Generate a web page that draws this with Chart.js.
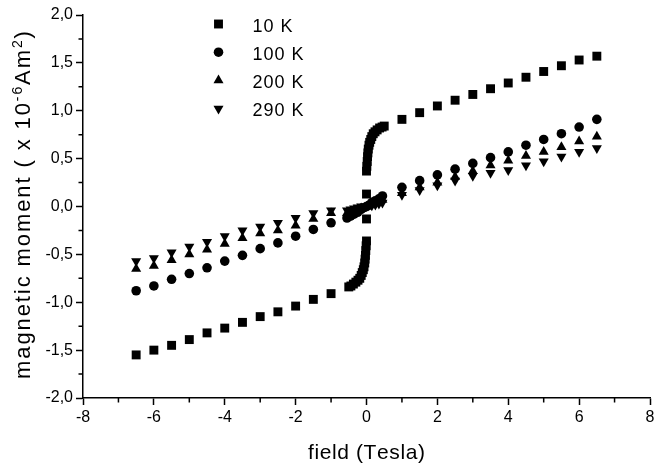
<!DOCTYPE html>
<html>
<head>
<meta charset="utf-8">
<script src="https://cdn.jsdelivr.net/npm/chart.js@4.4.1/dist/chart.umd.min.js"></script>
<style>
html, body { margin: 0; padding: 0; background: #fff; }
#wrap { width: 660px; height: 465px; position: relative; }
</style>
</head>
<body>
<div id="wrap"><canvas id="myChart"></canvas></div>
<script>
// ---- data (field in Tesla, moment in 1e-6 Am2) ----
var field_10K = [-6.5, -6, -5.5, -5, -4.5, -4, -3.5, -3, -2.5, -2, -1.5, -1,
    -0.50, -0.44, -0.37, -0.30, -0.24, -0.19, -0.15, -0.12, -0.09, -0.07, -0.05, -0.04, -0.03, -0.02, -0.01, 0.00,
    0.00, 0.00,
    0.00, 0.01, 0.02, 0.03, 0.04, 0.05, 0.07, 0.09, 0.12, 0.15, 0.19, 0.24, 0.30, 0.37, 0.44, 0.50,
    1, 1.5, 2, 2.5, 3, 3.5, 4, 4.5, 5, 5.5, 6, 6.5];
var moment_10K = [-1.55, -1.50, -1.45, -1.39, -1.32, -1.27, -1.21, -1.15, -1.10, -1.04, -0.97, -0.91,
    -0.84, -0.83, -0.81, -0.79, -0.77, -0.75, -0.72, -0.69, -0.66, -0.63, -0.59, -0.55, -0.51, -0.46, -0.41, -0.36,
    -0.13, 0.13,
    0.37, 0.42, 0.47, 0.52, 0.56, 0.60, 0.64, 0.67, 0.70, 0.73, 0.76, 0.78, 0.80, 0.82, 0.83, 0.84,
    0.91, 0.98, 1.05, 1.11, 1.17, 1.23, 1.29, 1.35, 1.41, 1.47, 1.53, 1.57];

var field_hiT = [-6.5, -6, -5.5, -5, -4.5, -4, -3.5, -3, -2.5, -2, -1.5, -1,
    -0.55, -0.45, -0.35, -0.25, -0.15, -0.05, 0.05, 0.15, 0.25, 0.35, 0.45,
    1, 1.5, 2, 2.5, 3, 3.5, 4, 4.5, 5, 5.5, 6, 6.5];
var moment_100K = [-0.88, -0.83, -0.76, -0.70, -0.64, -0.57, -0.51, -0.44, -0.38, -0.31, -0.24, -0.17,
    -0.12, -0.10, -0.08, -0.06, -0.03, -0.01, 0.01, 0.04, 0.06, 0.08, 0.11,
    0.20, 0.27, 0.33, 0.39, 0.45, 0.51, 0.57, 0.64, 0.70, 0.76, 0.83, 0.91];
var moment_200K = [-0.65, -0.62, -0.56, -0.50, -0.45, -0.39, -0.33, -0.28, -0.25, -0.20, -0.13, -0.07,
    -0.07, -0.06, -0.04, -0.03, -0.02, -0.01, 0.01, 0.02, 0.04, 0.05, 0.07,
    0.14, 0.20, 0.25, 0.31, 0.37, 0.43, 0.48, 0.53, 0.57, 0.62, 0.68, 0.73];
var moment_290K = [-0.57, -0.54, -0.48, -0.42, -0.37, -0.31, -0.25, -0.21, -0.17, -0.12, -0.07, -0.04,
    -0.04, -0.03, -0.02, -0.01, 0.00, 0.00, 0.01, 0.01, 0.02, 0.03, 0.04,
    0.12, 0.17, 0.22, 0.27, 0.32, 0.35, 0.38, 0.43, 0.47, 0.52, 0.57, 0.61];

var series_labels = ['10 K', '100 K', '200 K', '290 K'];
var x_minor = [-7, -5, -3, -1, 1, 3, 5, 7];
var y_minor = [-1.75, -1.25, -0.75, -0.25, 0.25, 0.75, 1.25, 1.75];

var FONT = '"Liberation Sans", Arial, Helvetica, sans-serif';
var R_RECT = 6.3, R_CIRC = 4.8, R_TRI = 5.8;

function toPoints(xs, ys) {
    return xs.map(function(x, i) { return {x: x, y: ys[i]}; });
}

// ---- marker drawing for the legend (same shapes as chart.js points) ----
function drawMarker(ctx, kind, x, y) {
    var s = R_RECT * Math.SQRT1_2, h = R_TRI * 0.866, k = R_TRI / 2;
    ctx.beginPath();
    if (kind == 'rect') {
        ctx.rect(x - s, y - s, 2 * s, 2 * s);
    } else if (kind == 'circle') {
        ctx.arc(x, y, R_CIRC, 0, Math.PI * 2);
    } else if (kind == 'up') {
        ctx.moveTo(x, y - R_TRI); ctx.lineTo(x + h, y + k); ctx.lineTo(x - h, y + k);
    } else {
        ctx.moveTo(x, y + R_TRI); ctx.lineTo(x + h, y - k); ctx.lineTo(x - h, y - k);
    }
    ctx.closePath();
    ctx.fill();
}

// text runs: [text, font size, baseline shift]; drawn char by char with extra spacing
function runWidth(ctx, parts, sp) {
    var w = 0;
    parts.forEach(function(p) {
        ctx.font = p[1] + 'px ' + FONT;
        for (var i = 0; i < p[0].length; i++) w += ctx.measureText(p[0][i]).width + sp;
    });
    return w - sp;
}
function drawRun(ctx, parts, x, y, sp) {
    parts.forEach(function(p) {
        ctx.font = p[1] + 'px ' + FONT;
        for (var i = 0; i < p[0].length; i++) {
            ctx.fillText(p[0][i], x, y + p[2]);
            x += ctx.measureText(p[0][i]).width + sp;
        }
    });
}

var extras = {
    id: 'extras',
    afterDraw: function(chart) {
        var ctx = chart.ctx;
        var area = chart.chartArea;
        var xs = chart.scales.x, ys = chart.scales.y;
        ctx.save();
        ctx.strokeStyle = '#000';
        ctx.fillStyle = '#000';
        ctx.lineWidth = 1.5;

        // minor ticks
        ctx.beginPath();
        x_minor.forEach(function(v) {
            var px = xs.getPixelForValue(v);
            ctx.moveTo(px, area.bottom); ctx.lineTo(px, area.bottom + 4.5);
        });
        y_minor.forEach(function(v) {
            var py = ys.getPixelForValue(v);
            ctx.moveTo(area.left - 4.5, py); ctx.lineTo(area.left, py);
        });
        ctx.stroke();

        ctx.textAlign = 'left';
        ctx.textBaseline = 'alphabetic';

        // legend
        var kinds = ['rect', 'circle', 'up', 'down'];
        series_labels.forEach(function(lab, i) {
            var ly = 24 + i * 28.2;
            drawMarker(ctx, kinds[i], 218.5, ly);
            drawRun(ctx, [[lab, 18, 0]], 252.5, ly + 7.5, 1);
        });

        // x title
        var xt = [['field (Tesla)', 21, 0]];
        var xw = runWidth(ctx, xt, 0.6);
        drawRun(ctx, xt, (area.left + area.right) / 2 - xw / 2, 459, 0.6);

        // y title with superscripts
        var yt = [
            ['magnetic moment ( x 10', 22, 0],
            ['-6', 14, -8],
            ['Am', 22, 0],
            ['2', 14, -8],
            [')', 22, 0]
        ];
        var sp = 1.9;
        var yw = runWidth(ctx, yt, sp);
        ctx.translate(29.5, 205);
        ctx.rotate(-Math.PI / 2);
        drawRun(ctx, yt, -yw / 2, 0, sp);
        ctx.restore();
    }
};

var myChart = document.getElementById('myChart').getContext('2d');
var magChart = new Chart(myChart, {
    type: 'scatter',
    data: {
        datasets: [
            {label: series_labels[0], data: toPoints(field_10K, moment_10K), pointStyle: 'rect', pointRadius: R_RECT},
            {label: series_labels[1], data: toPoints(field_hiT, moment_100K), pointStyle: 'circle', pointRadius: R_CIRC},
            {label: series_labels[2], data: toPoints(field_hiT, moment_200K), pointStyle: 'triangle', pointRadius: R_TRI},
            {label: series_labels[3], data: toPoints(field_hiT, moment_290K), pointStyle: 'triangle', pointRadius: R_TRI, pointRotation: 180}
        ].map(function(ds) {
            ds.backgroundColor = '#000';
            ds.borderColor = '#000';
            ds.borderWidth = 0;
            ds.pointHoverRadius = ds.pointRadius;
            ds.clip = false;
            return ds;
        })
    },
    options: {
        responsive: true,
        maintainAspectRatio: false,
        animation: false,
        layout: {padding: {top: 15, right: 10, left: 0, bottom: 0}},
        plugins: {
            legend: {display: false},
            tooltip: {enabled: false}
        },
        scales: {
            x: {
                type: 'linear',
                min: -8, max: 8,
                afterFit: function(s) { s.height = 67; },
                ticks: {
                    stepSize: 2, color: '#000', padding: 3,
                    font: {family: FONT, size: 16},
                    maxRotation: 0
                },
                grid: {drawOnChartArea: false, drawTicks: true, tickLength: 7, tickColor: '#000', tickWidth: 1.5},
                border: {display: true, color: '#000', width: 1.5}
            },
            y: {
                type: 'linear',
                min: -2, max: 2,
                afterFit: function(s) { s.width = 83; },
                ticks: {
                    stepSize: 0.5, color: '#000', padding: 3,
                    font: {family: FONT, size: 16},
                    callback: function(v) { return v.toFixed(1).replace('.', ','); }
                },
                grid: {drawOnChartArea: false, drawTicks: true, tickLength: 7, tickColor: '#000', tickWidth: 1.5},
                border: {display: true, color: '#000', width: 1.5}
            }
        }
    },
    plugins: [extras]
});
</script>
</body>
</html>
